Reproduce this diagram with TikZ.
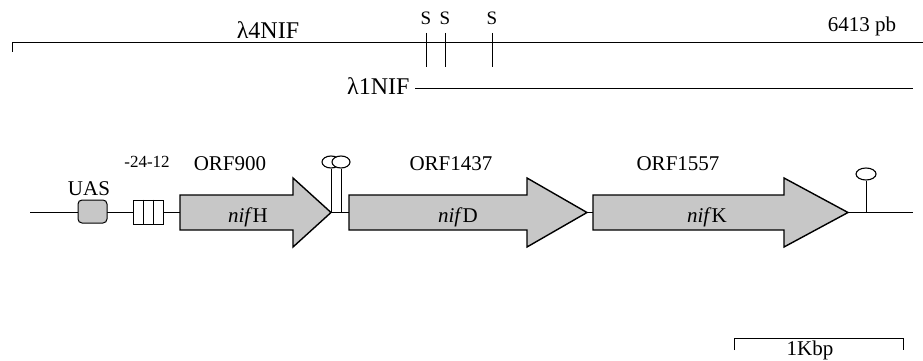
\documentclass[tikz,border=0pt]{standalone}
\usepackage{fontspec}
\setmainfont{Liberation Serif}
\usetikzlibrary{shapes.geometric}
\definecolor{genegray}{gray}{0.78}

\begin{document}
\begin{tikzpicture}[x=1pt, y=-1pt, line width=1pt,
    every node/.style={font=\fontsize{21}{24}\selectfont, inner sep=0pt},
    gene/.style={draw, line width=1.4pt, fill=genegray, line join=miter},
    term/.style={draw, ellipse, fill=white, minimum width=18pt, minimum height=12pt, line width=1.1pt}]

    \useasboundingbox (0,0) rectangle (923,361);

    % --- 1. lambda clones and restriction sites ---
    \coordinate (L4a) at (12,52);
    \coordinate (L4b) at (12,43);
    \coordinate (L4c) at (923,43);
    \draw (L4a) -- (L4b) -- (L4c);
    \node[anchor=base, font=\fontsize{24}{28}\selectfont] (lam4) at (268,38) {λ4NIF};
    \node[anchor=base] (len) at (862,32) {6413 pb};

    % sites S
    \foreach \i/\sx in {1/426, 2/445, 3/492} {
      \coordinate (Stop\i) at (\sx,33);
      \coordinate (Sbot\i) at (\sx,67);
      \draw (Stop\i) -- (Sbot\i);
      \node[anchor=base, font=\fontsize{19}{22}\selectfont] (S\i) at (\sx,25) {S};
    }

    % lambda 1 clone
    \node[anchor=base east, font=\fontsize{24}{28}\selectfont] (lam1) at (410,94) {λ1NIF};
    \coordinate (L1a) at (415,88);
    \coordinate (L1b) at (913,88);
    \draw (L1a) -- (L1b);

    % --- 2. backbone ---
    \coordinate (B0) at (30,212);
    \coordinate (B1) at (913,212);
    \draw (B0) -- (B1);

    % --- 3. UAS and promoter ---
    \node[draw, fill=genegray, rounded corners=4pt, minimum width=29pt, minimum height=23pt] (uas) at (92.5,211.5) {};
    \node[anchor=base] (uaslbl) at (89,195) {UAS};
    \node[draw, fill=white, minimum width=30pt, minimum height=24pt] (prom) at (148,212) {};
    \draw ([xshift=-5pt]prom.north) -- ([xshift=-5pt]prom.south);
    \draw ([xshift=5pt]prom.north) -- ([xshift=5pt]prom.south);
    \node[anchor=base, font=\fontsize{17}{20}\selectfont] (promlbl) at (147,167) {-24-12};

    % --- 4. genes nifH, nifD, nifK ---
    \foreach \g/\xl/\xh/\xt/\lx/\orf/\ox in {H/180/293/331/248/900/230, D/349/527/587/458/1437/451, K/593/784/848/707/1557/678} {
      \draw[gene] (\xl,195) -- (\xh,195) -- (\xh,178) -- (\xt,212.5) -- (\xh,247) -- (\xh,230) -- (\xl,230) -- cycle;
      \node[anchor=base] (nif\g) at (\lx,222) {\textit{nif}\g};
      \node[anchor=base] (orf\g) at (\ox,170) {ORF\orf};
    }

    % --- 5. terminators ---
    \node[term] (t1) at (331,162) {};
    \draw (t1.south) -- (t1.south |- B0);
    \node[term] (t2) at (341,162) {};
    \draw (t2.south) -- (t2.south |- B0);
    \node[term, minimum width=20pt] (t3) at (866,174) {};
    \draw (t3.south) -- (t3.south |- B0);

    % --- 6. scale bar ---
    \coordinate (K0) at (734,350);
    \coordinate (K1) at (734,338);
    \coordinate (K2) at (903,338);
    \coordinate (K3) at (903,350);
    \draw (K0) -- (K1) -- (K2) -- (K3);
    \node[anchor=base] (kbp) at (810,355) {1Kbp};

  \end{tikzpicture}
\end{document}
